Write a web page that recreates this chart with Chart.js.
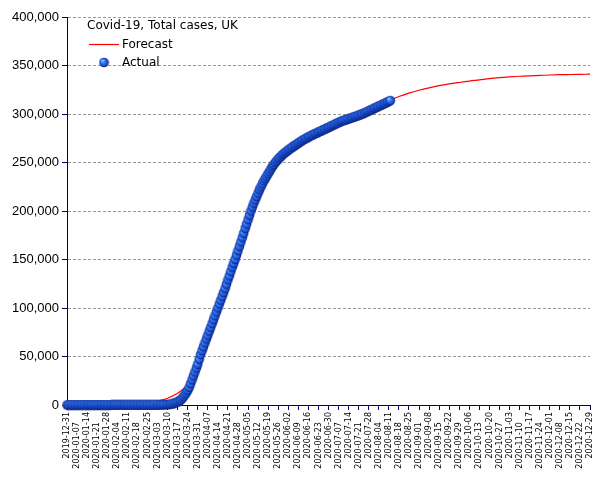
<!DOCTYPE html>
<html>
<head>
<meta charset="utf-8">
<script src="https://cdn.jsdelivr.net/npm/chart.js@4"></script>
<style>
html,body{margin:0;padding:0;background:#fff;}
canvas{display:block;}
</style>
</head>
<body>
<canvas id="c" width="605" height="480"></canvas>
<script>
const chartTitle = 'Covid-19, Total cases, UK';
const seriesNames = ['Forecast', 'Actual'];

// week tick labels (every 7 days from 2019-12-31)
const weekLabels = ['2019-12-31','2020-01-07','2020-01-14','2020-01-21','2020-01-28','2020-02-04','2020-02-11','2020-02-18','2020-02-25','2020-03-03','2020-03-10','2020-03-17','2020-03-24','2020-03-31','2020-04-07','2020-04-14','2020-04-21','2020-04-28','2020-05-05','2020-05-12','2020-05-19','2020-05-26','2020-06-02','2020-06-09','2020-06-16','2020-06-23','2020-06-30','2020-07-07','2020-07-14','2020-07-21','2020-07-28','2020-08-04','2020-08-11','2020-08-18','2020-08-25','2020-09-01','2020-09-08','2020-09-15','2020-09-22','2020-09-29','2020-10-06','2020-10-13','2020-10-20','2020-10-27','2020-11-03','2020-11-10','2020-11-17','2020-11-24','2020-12-01','2020-12-08','2020-12-15','2020-12-22','2020-12-29'];

// actual total cases, one value per day from 2019-12-31
const actualCases = [
0,0,0,0,0,0,0,0,0,0, 0,0,0,0,0,0,0,0,0,0, 0,0,0,0,0,0,0,0,0,0, 0,
2,2,2,2,2,2,2,2,2,3,
8,8,9,9,9,9,9,9,9,9,
9,9,9,9,13,13,13,16,20,23,
36,40,51,85,115,163,206,273,380,456,
590,800,1140,1390,1950,2630,3270,4000,5000,6500,
8500,10500,12500,15000,18000,22000,26000,30000,34000,38000,
42000,47000,52000,56000,60000,64000,68000,72000,76000,80000,
84000,88000,92000,96000,100000,104000,108000,112000,116000,120000,
124500,129000,133000,137500,142000,146000,150000,154500,159000,163500,
168000,172500,177000,182000,186500,191000,195500,200000,204000,208000,
211500,215000,218500,222000,225000,228000,231000,233500,236000,238500,
241000,243500,246000,248000,250000,251800,253500,255000,256500,258000,
259300,260500,261700,262800,263900,265000,266000,267000,268000,269000,
270000,271000,272000,273000,273800,274600,275400,276200,277000,277800,
278500,279200,279900,280600,281300,282000,282700,283400,284100,284800,
285500,286200,286900,287600,288300,289000,289700,290400,291100,291800,
292400,293000,293500,294000,294500,295000,295500,296000,296500,297000,
297500,298000,298600,299200,299800,300400,301000,301700,302400,303100,
303800,304500,305200,305900,306600,307300,308000,308700,309400,310100,
310800,311500,312200,313000,313800
];

// forecast total cases, one value per week (same dates as weekLabels)
const forecastCases = [
10,20,40,80,150,300,550,1000,1800,4000,
7000,12000,21000,36000,62000,90000,122000,155000,186000,213000,
234000,250000,262000,271500,278500,284000,288500,292500,295500,300000,
305000,309500,314000,318000,321500,324500,327000,329200,331000,332500,
333900,335100,336400,337400,338200,338900,339400,339800,340200,340500,
340700,340900,341100
];

function makeBall(r) {
  const s = Math.ceil(r * 2) + 1;
  const c = document.createElement('canvas');
  c.width = s; c.height = s;
  const g = c.getContext('2d');
  const cx = s / 2, cy = s / 2;
  const grad = g.createRadialGradient(cx - r * 0.35, cy - r * 0.4, r * 0.1, cx, cy, r);
  grad.addColorStop(0, '#9cccff');
  grad.addColorStop(0.3, '#3a80f8');
  grad.addColorStop(0.75, '#1a4ed0');
  grad.addColorStop(1, '#061a6a');
  g.fillStyle = grad;
  g.beginPath(); g.arc(cx, cy, r, 0, Math.PI * 2); g.fill();
  return c;
}
const ball = makeBall(4.8);

const legendPlugin = {
  id: 'insideLegend',
  afterDraw(chart) {
    const ctx = chart.ctx;
    ctx.save();
    ctx.font = '12px "DejaVu Sans"';
    ctx.fillStyle = '#000';
    ctx.textBaseline = 'middle';
    ctx.textAlign = 'left';
    ctx.fillText(chartTitle, 87, 26);
    ctx.strokeStyle = '#ff0000';
    ctx.lineWidth = 1.2;
    ctx.beginPath(); ctx.moveTo(89, 44.5); ctx.lineTo(119, 44.5); ctx.stroke();
    ctx.fillText(seriesNames[0], 122, 44.5);
    ctx.drawImage(ball, 104 - ball.width / 2, 62.5 - ball.height / 2);
    ctx.fillText(seriesNames[1], 122, 62.5);
    ctx.restore();
  }
};

const axisColor = '#000066';

new Chart(document.getElementById('c'), {
  type: 'line',
  data: {
    datasets: [
      {
        label: seriesNames[1],
        data: actualCases.map((v, i) => ({ x: i, y: v })),
        showLine: false,
        pointStyle: ball,
        order: 0,
        clip: 8
      },
      {
        label: seriesNames[0],
        data: forecastCases.map((v, i) => ({ x: i * 7, y: v })),
        borderColor: '#ff0000',
        borderWidth: 1.2,
        pointRadius: 0,
        fill: false,
        cubicInterpolationMode: 'monotone',
        order: 1,
        clip: 4
      }
    ]
  },
  options: {
    responsive: false,
    animation: false,
    devicePixelRatio: 1,
    layout: { padding: { top: 17, right: 15, left: 0, bottom: 0 } },
    plugins: { legend: { display: false }, tooltip: { enabled: false } },
    scales: {
      x: {
        type: 'linear',
        min: 0,
        max: (weekLabels.length - 1) * 7,
        ticks: {
          stepSize: 7,
          autoSkip: false,
          maxRotation: 90,
          minRotation: 90,
          padding: 2,
          color: '#000',
          font: { family: 'DejaVu Sans', size: 8 },
          callback: (v) => {
            const k = Math.round(v / 7);
            const s = weekLabels[k] || '';
            return k % 2 === 1 ? s + '    ' : s;
          }
        },
        grid: { drawOnChartArea: false, color: axisColor, tickLength: 5 },
        border: { color: axisColor, width: 1 },
        afterFit: (s) => { s.height = 75; }
      },
      y: {
        min: 0,
        max: 400000,
        ticks: {
          stepSize: 50000,
          padding: 3,
          color: '#000',
          font: { family: 'Liberation Sans', size: 13 },
          callback: (v) => v.toLocaleString('en-US')
        },
        grid: {
          color: (c) => (c.tick && c.tick.value === 0) ? 'rgba(0,0,0,0)' : '#999999',
          tickColor: axisColor,
          tickLength: 5,
          tickBorderDash: []
        },
        border: { color: axisColor, width: 1, dash: [3, 2] },
        afterFit: (s) => { s.width = 67; }
      }
    }
  },
  plugins: [legendPlugin]
});
</script>
</body>
</html>
